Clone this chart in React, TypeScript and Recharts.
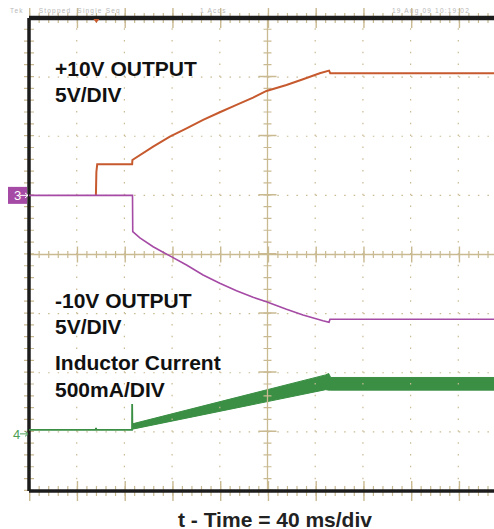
import { ComposedChart, Line, Area, XAxis, YAxis, ReferenceLine } from 'recharts'

// time in ms (40 ms/div), outputs in volts (5 V/div), inductor current in mA (500 mA/div)
const plusTime = [56.1, 56.5, 57.2, 86.5, 86.7, 104.1, 118.1, 132.1, 146.0, 160.0, 174.0, 187.9, 199.1, 215.9, 229.8, 243.8, 251.6, 252.6, 400]
const plusVolts = [0, 1.98, 2.63, 2.63, 2.99, 4.12, 4.96, 5.67, 6.38, 7.03, 7.65, 8.26, 8.83, 9.34, 9.82, 10.33, 10.55, 10.33, 10.33]

const minusTime = [0, 86.8, 87.0, 93.0, 104.1, 118.1, 132.1, 146.0, 160.0, 174.0, 187.9, 199.1, 215.9, 229.8, 246.5, 251.6, 252.4, 400]
const minusVolts = [0, 0, -3.07, -3.6, -4.34, -5.12, -5.89, -6.73, -7.43, -8.06, -8.62, -8.99, -9.63, -10.11, -10.6, -10.73, -10.48, -10.48]

const currentTime = [0, 56.0, 56.2, 56.4, 86.4, 86.5, 86.7]
const currentMa = [17, 17, 35, 17, 17, 235, 40]

const rippleTime = [86.8, 167.8, 248.8, 251.3, 253.0, 400]
const rippleLow = [23, 190, 357, 353, 353, 353]
const rippleHigh = [68, 275, 482, 494, 460, 460]

const timeGrid = [40, 80, 120, 160, 240, 280, 320, 360]
const voltGrid = [-20, -15, -10, 0, 5, 10]
const timeCenter = 200
const voltCenter = -5
const timeEdges = [0, 400]
const voltTop = 15
const voltBottom = -25
const triggerTime = 56.5

const labels = [
  { text: '+10V OUTPUT', top: 58 },
  { text: '5V/DIV', top: 84 },
  { text: '-10V OUTPUT', top: 289.5 },
  { text: '5V/DIV', top: 315.5 },
  { text: 'Inductor Current', top: 351.5 },
  { text: '500mA/DIV', top: 378.5 },
]

const ORANGE = '#c65a2e'
const PURPLE = '#a54aa5'
const GREEN = '#3a8f44'
const GRID = '#c9ba92'
const FRAME = '#1c1c1c'
const HEADER = '#b8b8b8'

const plusData = plusTime.map((t, i) => ({ t, v: plusVolts[i] }))
const minusData = minusTime.map((t, i) => ({ t, v: minusVolts[i] }))
const currentData = currentTime.map((t, i) => ({ t, i: currentMa[i] }))
const rippleData = rippleTime.map((t, i) => ({ t, band: [rippleLow[i], rippleHigh[i]] }))

function ChannelTag(props: any) {
  const { viewBox, num, color, boxed } = props
  const x = viewBox.x
  const y = viewBox.y
  if (boxed) {
    return (
      <g>
        <rect x={x - 21} y={y - 8.5} width={19} height={17} fill={color} />
        <text x={x - 15} y={y + 5} fill="#fff" fontSize={13} fontFamily="Liberation Sans, Arial">{num}</text>
        <path d={`M${x - 9} ${y} H${x - 1} M${x - 4} ${y - 2.5} L${x - 1} ${y} L${x - 4} ${y + 2.5}`} stroke="#fff" strokeWidth={1} fill="none" />
      </g>
    )
  }
  return (
    <g>
      <text x={x - 16} y={y + 7} fill={color} fontSize={13} fontFamily="Liberation Sans, Arial">{num}</text>
      <path d={`M${x - 9} ${y + 2} H${x - 1} M${x - 4} ${y - 0.5} L${x - 1} ${y + 2} L${x - 4} ${y + 4.5}`} stroke={color} strokeWidth={1} fill="none" />
    </g>
  )
}

function TriggerMark(props: any) {
  const { viewBox } = props
  const x = viewBox.x
  const y = viewBox.y
  return <polygon points={`${x - 3},${y + 1} ${x + 3},${y + 1} ${x},${y + 5}`} fill={ORANGE} />
}

export default function App() {
  return (
    <div
      style={{
        position: 'relative',
        width: 494,
        height: 529,
        overflow: 'hidden',
        background: '#fff',
        fontFamily: '"Liberation Sans", Arial, sans-serif',
      }}
    >
      <style>{'html,body{margin:0;padding:0;overflow:hidden}'}</style>
      <div style={{ position: 'absolute', top: 7, left: 10, fontSize: 6.5, lineHeight: '7px', color: HEADER, letterSpacing: 1.2, whiteSpace: 'pre' }}>
        {'Tek     Stopped  Single Seq'}
      </div>
      <div style={{ position: 'absolute', top: 7, left: 200, fontSize: 6.5, lineHeight: '7px', color: HEADER, letterSpacing: 1.2 }}>1 Acqs</div>
      <div style={{ position: 'absolute', top: 7, left: 392, fontSize: 6.5, lineHeight: '7px', color: HEADER, letterSpacing: 1.2 }}>19 Aug 09 10:19:02</div>

      <ComposedChart width={520} height={529} margin={{ top: 18, right: 14, bottom: 38, left: 29 }}>
        <XAxis type="number" dataKey="t" domain={[0, 400]} hide allowDataOverflow />
        <YAxis yAxisId="v" type="number" domain={[voltBottom, voltTop]} hide allowDataOverflow />
        <YAxis yAxisId="i" type="number" domain={[-500, 3500]} hide allowDataOverflow />

        {/* dotted major divisions */}
        {timeGrid.map((t) => (
          <ReferenceLine key={'gx' + t} x={t} yAxisId="v" stroke={GRID} strokeWidth={1.2} strokeDasharray="1.5 10.33" />
        ))}
        {voltGrid.map((v) => (
          <ReferenceLine key={'gy' + v} y={v} yAxisId="v" stroke={GRID} strokeWidth={1.2} strokeDasharray="1.5 8.05" />
        ))}

        {/* center cross with ticks */}
        <ReferenceLine x={timeCenter} yAxisId="v" stroke={GRID} strokeWidth={1.3} />
        <ReferenceLine x={timeCenter} yAxisId="v" stroke={GRID} strokeWidth={8} strokeDasharray="1.2 10.625" />
        <ReferenceLine x={timeCenter} yAxisId="v" stroke={GRID} strokeWidth={18} strokeDasharray="1.4 57.725" />
        <ReferenceLine y={voltCenter} yAxisId="v" stroke={GRID} strokeWidth={1.3} />
        <ReferenceLine y={voltCenter} yAxisId="v" stroke={GRID} strokeWidth={7} strokeDasharray="1.2 8.35" />
        <ReferenceLine y={voltCenter} yAxisId="v" stroke={GRID} strokeWidth={16} strokeDasharray="1.4 46.35" />

        {/* border ticks */}
        <ReferenceLine y={voltTop} yAxisId="v" stroke={GRID} strokeWidth={10} strokeDasharray="1.2 8.35" />
        <ReferenceLine y={voltTop} yAxisId="v" stroke={GRID} strokeWidth={20} strokeDasharray="1.4 46.35" />
        <ReferenceLine y={voltBottom} yAxisId="v" stroke={GRID} strokeWidth={10} strokeDasharray="1.2 8.35" />
        <ReferenceLine y={voltBottom} yAxisId="v" stroke={GRID} strokeWidth={20} strokeDasharray="1.4 46.35" />
        <ReferenceLine x={timeEdges[0]} yAxisId="v" stroke={GRID} strokeWidth={10} strokeDasharray="1.2 10.625" />

        {/* frame */}
        <ReferenceLine y={voltTop} yAxisId="v" stroke={FRAME} strokeWidth={4.5} />
        <ReferenceLine y={voltBottom} yAxisId="v" stroke={FRAME} strokeWidth={3.5} />
        {timeEdges.map((t) => (
          <ReferenceLine key={'fx' + t} x={t} yAxisId="v" stroke={FRAME} strokeWidth={3.5} />
        ))}

        <Line
          data={plusData}
          yAxisId="v"
          dataKey="v"
          type="linear"
          stroke={ORANGE}
          strokeWidth={2}
          dot={false}
          isAnimationActive={false}
        />
        <Line
          data={minusData}
          yAxisId="v"
          dataKey="v"
          type="linear"
          stroke={PURPLE}
          strokeWidth={1.6}
          dot={false}
          isAnimationActive={false}
        />
        <Line
          data={currentData}
          yAxisId="i"
          dataKey="i"
          type="linear"
          stroke={GREEN}
          strokeWidth={1.8}
          dot={false}
          isAnimationActive={false}
        />
        <Area
          data={rippleData}
          yAxisId="i"
          dataKey="band"
          type="linear"
          stroke={GREEN}
          strokeWidth={1}
          fill={GREEN}
          fillOpacity={1}
          dot={false}
          activeDot={false}
          isAnimationActive={false}
        />

        <ReferenceLine
          y={0}
          yAxisId="v"
          stroke="none"
          label={(p: any) => <ChannelTag viewBox={p.viewBox} num="3" color={PURPLE} boxed />}
        />
        <ReferenceLine
          y={0}
          yAxisId="i"
          stroke="none"
          label={(p: any) => <ChannelTag viewBox={p.viewBox} num="4" color="#4d9f55" />}
        />
        <ReferenceLine
          x={triggerTime}
          yAxisId="v"
          stroke="none"
          label={(p: any) => <TriggerMark viewBox={p.viewBox} />}
        />
      </ComposedChart>

      {labels.map((l) => (
        <div
          key={l.text + l.top}
          style={{ position: 'absolute', left: 55, top: l.top, fontSize: 21, lineHeight: '21px', fontWeight: 'bold', color: '#111', whiteSpace: 'nowrap' }}
        >
          {l.text}
        </div>
      ))}
      <div
        style={{ position: 'absolute', left: 0, width: 550, top: 508.5, textAlign: 'center', fontSize: 21, lineHeight: '21px', fontWeight: 'bold', color: '#222' }}
      >
        t - Time = 40 ms/div
      </div>
    </div>
  )
}
